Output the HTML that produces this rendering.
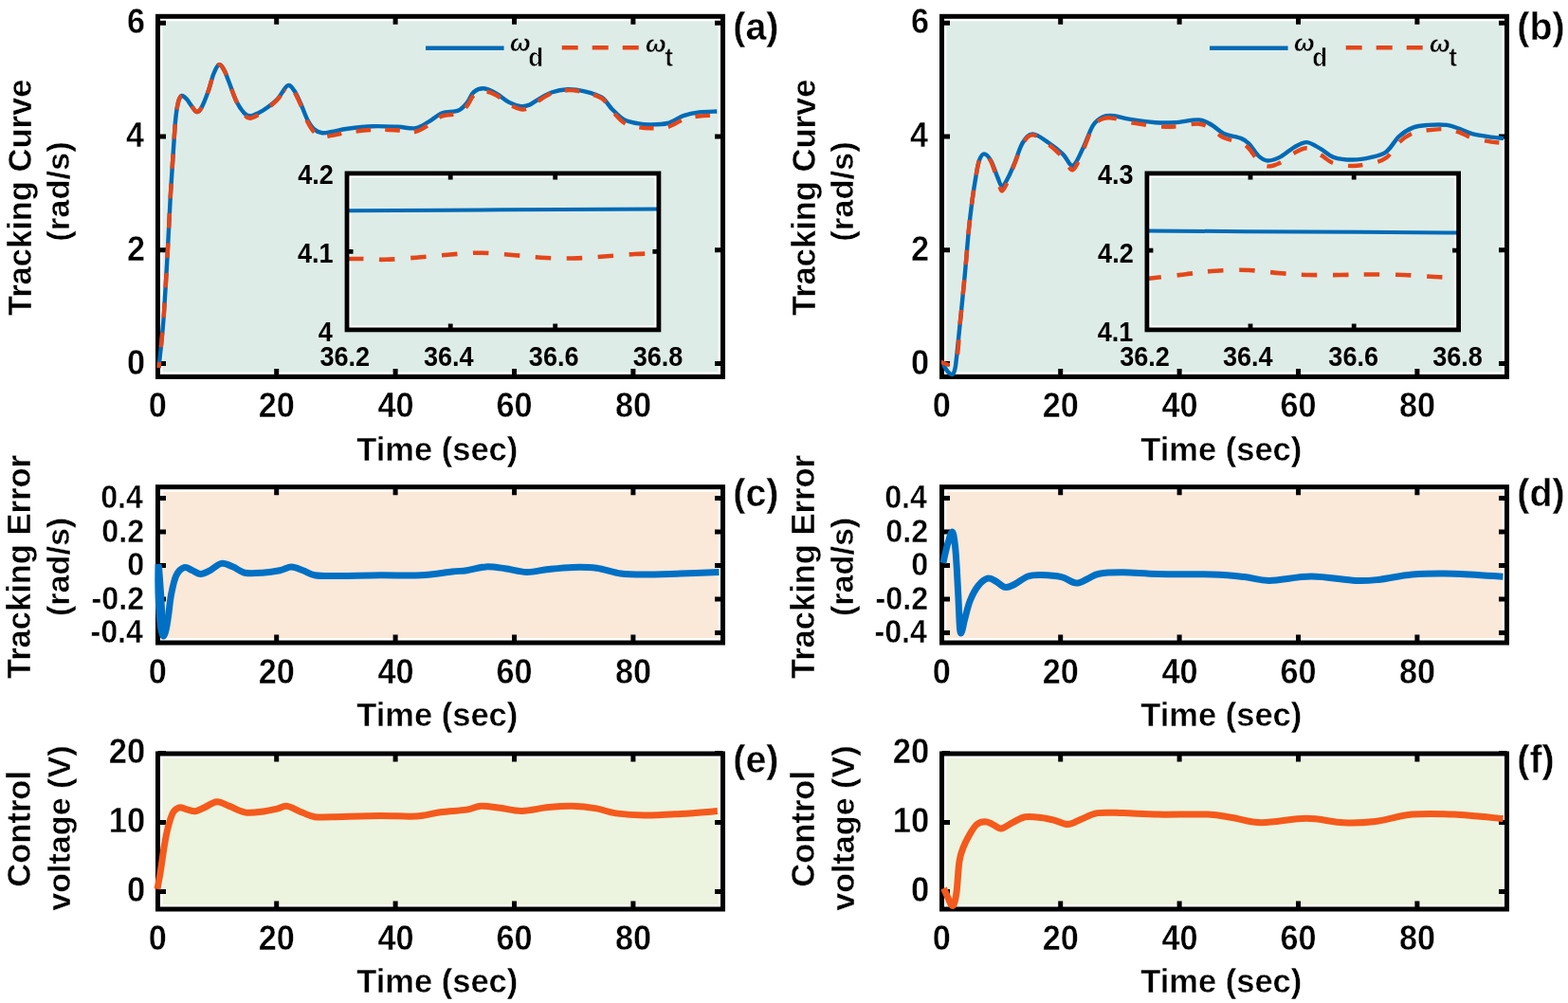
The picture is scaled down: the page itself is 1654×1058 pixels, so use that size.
<!DOCTYPE html><html><head><meta charset="utf-8"><title>Tracking figure</title><style>html,body{margin:0;padding:0;background:#fff;}svg{display:block;}</style></head><body>
<svg width="1654" height="1058" viewBox="0 0 1654 1058">
<rect width="1654" height="1058" fill="#fff"/>
<rect x="166.5" y="17.3" width="596" height="380.1" fill="#fff"/>
<rect x="171.5" y="22.3" width="586" height="370.1" fill="#DEECE7"/>
<path d="M291.7,397.4V388.9M291.7,17.3V25.8M417.1,397.4V388.9M417.1,17.3V25.8M542.5,397.4V388.9M542.5,17.3V25.8M667.9,397.4V388.9M667.9,17.3V25.8M166.5,383.5H175M762.5,383.5H754M166.5,263.7H175M762.5,263.7H754M166.5,143.9H175M762.5,143.9H754M166.5,24.3H175M762.5,24.3H754" stroke="#000" stroke-width="5" fill="none"/>
<rect x="166.5" y="17.3" width="596" height="380.1" fill="none" stroke="#000" stroke-width="5"/>
<path d="M167.5,388 C168.3,379.8 170.75,359.2 172.3,338.8 C173.85,318.4 175.55,287.57 176.8,265.6 C178.05,243.63 178.8,224.6 179.8,207 C180.8,189.4 181.88,173.67 182.8,160 C183.72,146.33 184.38,133.88 185.3,125 C186.22,116.12 187.2,110.7 188.3,106.7 C189.4,102.7 190.47,101.35 191.9,101 C193.33,100.65 195.13,102.7 196.9,104.6 C198.67,106.5 200.73,110.17 202.5,112.4 C204.27,114.63 205.85,117.77 207.5,118 C209.15,118.23 210.4,117.33 212.4,113.8 C214.4,110.27 217.37,102.72 219.5,96.8 C221.63,90.88 223.3,83.03 225.2,78.3 C227.1,73.57 229.02,69.1 230.9,68.4 C232.78,67.7 234.62,70.78 236.5,74.1 C238.38,77.42 240.07,82.87 242.2,88.3 C244.33,93.73 246.7,101.5 249.3,106.7 C251.9,111.9 255.43,116.9 257.8,119.5 C260.17,122.1 261.13,122.3 263.5,122.3 C265.87,122.3 268.7,121.15 272,119.5 C275.3,117.85 279.77,115 283.3,112.4 C286.83,109.8 289.88,107.57 293.2,103.9 C296.52,100.23 300.37,91.82 303.2,90.4 C306.03,88.98 307.85,92.22 310.2,95.4 C312.55,98.58 314.93,104.32 317.3,109.5 C319.67,114.68 322.03,122 324.4,126.5 C326.77,131 328.9,134.22 331.5,136.5 C334.1,138.78 336.92,139.78 340,140.2 C343.08,140.62 345.57,139.73 350,139 C354.43,138.27 359.4,136.77 366.6,135.8 C373.8,134.83 384.33,133.53 393.2,133.2 C402.07,132.87 412.27,133.47 419.8,133.8 C427.33,134.13 432.85,136.2 438.4,135.2 C443.95,134.2 448.43,130.47 453.1,127.8 C457.77,125.13 461.3,121.08 466.4,119.2 C471.5,117.32 479.27,118.38 483.7,116.5 C488.13,114.62 490.35,111.12 493,107.9 C495.65,104.68 496.72,99.63 499.6,97.2 C502.48,94.77 506.3,93.07 510.3,93.3 C514.3,93.53 519.17,96.17 523.6,98.6 C528.03,101.03 532.55,105.65 536.9,107.9 C541.25,110.15 546.1,111.65 549.7,112.1 C553.3,112.55 555.48,111.82 558.5,110.6 C561.52,109.38 563.93,106.98 567.8,104.8 C571.67,102.62 576.6,99.27 581.7,97.5 C586.8,95.73 592.6,94.4 598.4,94.2 C604.2,94 610.47,94.88 616.5,96.3 C622.53,97.72 629.73,99.55 634.6,102.7 C639.47,105.85 641.77,111.28 645.7,115.2 C649.63,119.12 653.8,123.72 658.2,126.2 C662.6,128.68 667.47,129.23 672.1,130.1 C676.73,130.97 680.67,131.42 686,131.4 C691.33,131.38 698.3,131.53 704.1,130 C709.9,128.47 715.23,124.13 720.8,122.2 C726.37,120.27 731.58,119.18 737.5,118.4 C743.42,117.62 753.17,117.65 756.3,117.5" stroke="#006AB6" stroke-width="4.4" fill="none" stroke-linejoin="round" stroke-linecap="butt"/>
<clipPath id="ca1"><rect x="150" y="0" width="150" height="420"/></clipPath>
<clipPath id="ca2"><rect x="300" y="0" width="480" height="420"/></clipPath>
<path d="M167.5,388 C168.3,379.8 170.75,359.2 172.3,338.8 C173.85,318.4 175.55,287.57 176.8,265.6 C178.05,243.63 178.8,224.6 179.8,207 C180.8,189.4 181.88,173.67 182.8,160 C183.72,146.33 184.38,133.88 185.3,125 C186.22,116.12 187.2,110.7 188.3,106.7 C189.4,102.7 190.47,101.35 191.9,101 C193.33,100.65 195.13,102.7 196.9,104.6 C198.67,106.5 200.73,110.17 202.5,112.4 C204.27,114.63 205.85,117.77 207.5,118 C209.15,118.23 210.4,117.33 212.4,113.8 C214.4,110.27 217.37,102.72 219.5,96.8 C221.63,90.88 223.3,83.03 225.2,78.3 C227.1,73.57 229.02,69.1 230.9,68.4 C232.78,67.7 234.62,70.78 236.5,74.1 C238.38,77.42 240.07,82.87 242.2,88.3 C244.33,93.73 246.7,101.25 249.3,106.7 C251.9,112.15 255.43,117.99 257.8,121 C260.17,124.01 261.13,124.71 263.5,124.76 C265.87,124.82 268.7,123.23 272,121.33 C275.3,119.44 279.77,116.2 283.3,113.4 C286.83,110.59 289.88,108.18 293.2,104.51 C296.52,100.83 300.37,92.66 303.2,91.34 C306.03,90.02 307.85,93.31 310.2,96.57 C312.55,99.84 314.93,105.58 317.3,110.91 C319.67,116.24 322.03,123.8 324.4,128.55 C326.77,133.3 328.9,136.83 331.5,139.44 C334.1,142.05 336.92,143.61 340,144.2 C343.08,144.79 345.57,143.71 350,142.95 C354.43,142.2 359.4,140.68 366.6,139.68 C373.8,138.68 384.33,137.33 393.2,136.96 C402.07,136.58 412.27,137.14 419.8,137.44 C427.33,137.74 432.85,139.78 438.4,138.75 C443.95,137.72 448.43,133.97 453.1,131.25 C457.77,128.53 461.3,124.37 466.4,122.43 C471.5,120.48 479.27,121.46 483.7,119.59 C488.13,117.73 490.35,114.38 493,111.23 C495.65,108.07 496.72,103.21 499.6,100.69 C502.48,98.17 506.3,96.14 510.3,96.11 C514.3,96.09 519.17,98.21 523.6,100.53 C528.03,102.85 532.55,107.55 536.9,110.03 C541.25,112.5 546.1,114.83 549.7,115.39 C553.3,115.95 555.48,114.86 558.5,113.39 C561.52,111.93 563.93,109.06 567.8,106.58 C571.67,104.1 576.6,100.4 581.7,98.5 C586.8,96.6 592.6,95.4 598.4,95.2 C604.2,95 610.47,95.88 616.5,97.3 C622.53,98.72 629.73,100.43 634.6,103.7 C639.47,106.97 641.77,112.62 645.7,116.93 C649.63,121.23 653.8,126.68 658.2,129.52 C662.6,132.35 667.47,132.98 672.1,133.94 C676.73,134.9 680.67,135.29 686,135.3 C691.33,135.3 698.3,135.48 704.1,133.97 C709.9,132.46 715.23,128.15 720.8,126.24 C726.37,124.33 731.58,123.27 737.5,122.51 C743.42,121.75 753.17,121.82 756.3,121.68" stroke="#E4461A" stroke-width="4.4" fill="none" stroke-linejoin="round" stroke-linecap="butt" stroke-dasharray="15.5,15.9" stroke-dashoffset="9.32" clip-path="url(#ca1)"/>
<path d="M167.5,388 C168.3,379.8 170.75,359.2 172.3,338.8 C173.85,318.4 175.55,287.57 176.8,265.6 C178.05,243.63 178.8,224.6 179.8,207 C180.8,189.4 181.88,173.67 182.8,160 C183.72,146.33 184.38,133.88 185.3,125 C186.22,116.12 187.2,110.7 188.3,106.7 C189.4,102.7 190.47,101.35 191.9,101 C193.33,100.65 195.13,102.7 196.9,104.6 C198.67,106.5 200.73,110.17 202.5,112.4 C204.27,114.63 205.85,117.77 207.5,118 C209.15,118.23 210.4,117.33 212.4,113.8 C214.4,110.27 217.37,102.72 219.5,96.8 C221.63,90.88 223.3,83.03 225.2,78.3 C227.1,73.57 229.02,69.1 230.9,68.4 C232.78,67.7 234.62,70.78 236.5,74.1 C238.38,77.42 240.07,82.87 242.2,88.3 C244.33,93.73 246.7,101.25 249.3,106.7 C251.9,112.15 255.43,117.99 257.8,121 C260.17,124.01 261.13,124.71 263.5,124.76 C265.87,124.82 268.7,123.23 272,121.33 C275.3,119.44 279.77,116.2 283.3,113.4 C286.83,110.59 289.88,108.18 293.2,104.51 C296.52,100.83 300.37,92.66 303.2,91.34 C306.03,90.02 307.85,93.31 310.2,96.57 C312.55,99.84 314.93,105.58 317.3,110.91 C319.67,116.24 322.03,123.8 324.4,128.55 C326.77,133.3 328.9,136.83 331.5,139.44 C334.1,142.05 336.92,143.61 340,144.2 C343.08,144.79 345.57,143.71 350,142.95 C354.43,142.2 359.4,140.68 366.6,139.68 C373.8,138.68 384.33,137.33 393.2,136.96 C402.07,136.58 412.27,137.14 419.8,137.44 C427.33,137.74 432.85,139.78 438.4,138.75 C443.95,137.72 448.43,133.97 453.1,131.25 C457.77,128.53 461.3,124.37 466.4,122.43 C471.5,120.48 479.27,121.46 483.7,119.59 C488.13,117.73 490.35,114.38 493,111.23 C495.65,108.07 496.72,103.21 499.6,100.69 C502.48,98.17 506.3,96.14 510.3,96.11 C514.3,96.09 519.17,98.21 523.6,100.53 C528.03,102.85 532.55,107.55 536.9,110.03 C541.25,112.5 546.1,114.83 549.7,115.39 C553.3,115.95 555.48,114.86 558.5,113.39 C561.52,111.93 563.93,109.06 567.8,106.58 C571.67,104.1 576.6,100.4 581.7,98.5 C586.8,96.6 592.6,95.4 598.4,95.2 C604.2,95 610.47,95.88 616.5,97.3 C622.53,98.72 629.73,100.43 634.6,103.7 C639.47,106.97 641.77,112.62 645.7,116.93 C649.63,121.23 653.8,126.68 658.2,129.52 C662.6,132.35 667.47,132.98 672.1,133.94 C676.73,134.9 680.67,135.29 686,135.3 C691.33,135.3 698.3,135.48 704.1,133.97 C709.9,132.46 715.23,128.15 720.8,126.24 C726.37,124.33 731.58,123.27 737.5,122.51 C743.42,121.75 753.17,121.82 756.3,121.68" stroke="#E4461A" stroke-width="4.4" fill="none" stroke-linejoin="round" stroke-linecap="butt" stroke-dasharray="15.5,15.2" stroke-dashoffset="21.46" clip-path="url(#ca2)"/>
<text transform="translate(156.78,440.04) scale(0.95,1)" font-size="36.04" font-weight="bold" font-family="'Liberation Sans', Arial, Helvetica, sans-serif" fill="#000" stroke="#fff" stroke-width="0.4">0</text>
<text transform="translate(272.74,440.04) scale(0.95,1)" font-size="36.04" font-weight="bold" font-family="'Liberation Sans', Arial, Helvetica, sans-serif" fill="#000" stroke="#fff" stroke-width="0.4">20</text>
<text transform="translate(398.44,440.04) scale(0.95,1)" font-size="36.04" font-weight="bold" font-family="'Liberation Sans', Arial, Helvetica, sans-serif" fill="#000" stroke="#fff" stroke-width="0.4">40</text>
<text transform="translate(523.5,440.04) scale(0.95,1)" font-size="36.04" font-weight="bold" font-family="'Liberation Sans', Arial, Helvetica, sans-serif" fill="#000" stroke="#fff" stroke-width="0.4">60</text>
<text transform="translate(648.99,440.04) scale(0.95,1)" font-size="36.04" font-weight="bold" font-family="'Liberation Sans', Arial, Helvetica, sans-serif" fill="#000" stroke="#fff" stroke-width="0.4">80</text>
<text transform="translate(134.1,394.67) scale(0.93,1)" font-size="36.85" font-weight="bold" font-family="'Liberation Sans', Arial, Helvetica, sans-serif" fill="#000" stroke="#fff" stroke-width="0.4">0</text>
<text transform="translate(134.1,275.05) scale(0.93,1)" font-size="36.85" font-weight="bold" font-family="'Liberation Sans', Arial, Helvetica, sans-serif" fill="#000" stroke="#fff" stroke-width="0.4">2</text>
<text transform="translate(132.89,155.07) scale(0.93,1)" font-size="36.85" font-weight="bold" font-family="'Liberation Sans', Arial, Helvetica, sans-serif" fill="#000" stroke="#fff" stroke-width="0.4">4</text>
<text transform="translate(133.92,35.47) scale(0.93,1)" font-size="36.85" font-weight="bold" font-family="'Liberation Sans', Arial, Helvetica, sans-serif" fill="#000" stroke="#fff" stroke-width="0.4">6</text>
<text transform="translate(376.16,485.5) scale(0.97,1)" font-size="35.6" font-weight="bold" font-family="'Liberation Sans', Arial, Helvetica, sans-serif" fill="#000" stroke="#fff" stroke-width="0.4">Time (sec)</text>
<text transform="translate(32.6,333.04) rotate(-90) scale(0.97,1)" font-size="35.6" font-weight="bold" font-family="'Liberation Sans', Arial, Helvetica, sans-serif" stroke="#fff" stroke-width="0.4">Tracking Curve</text>
<text transform="translate(73.4,254.65) rotate(-90) scale(1.02,1)" font-size="33.79" font-weight="bold" font-family="'Liberation Sans', Arial, Helvetica, sans-serif" stroke="#fff" stroke-width="0.4">(rad/s)</text>
<text transform="translate(773.25,41.99) scale(0.95,1)" font-size="41.5" font-weight="bold" font-family="'Liberation Sans', Arial, Helvetica, sans-serif" fill="#000" stroke="#fff" stroke-width="0.4">(a)</text>
<rect x="993.5" y="17.3" width="596" height="380.1" fill="#fff"/>
<rect x="998.5" y="22.3" width="586" height="370.1" fill="#DEECE7"/>
<path d="M1118.7,397.4V388.9M1118.7,17.3V25.8M1244.1,397.4V388.9M1244.1,17.3V25.8M1369.5,397.4V388.9M1369.5,17.3V25.8M1494.9,397.4V388.9M1494.9,17.3V25.8M993.5,383.5H1002M1589.5,383.5H1581M993.5,263.7H1002M1589.5,263.7H1581M993.5,143.9H1002M1589.5,143.9H1581M993.5,24.3H1002M1589.5,24.3H1581" stroke="#000" stroke-width="5" fill="none"/>
<rect x="993.5" y="17.3" width="596" height="380.1" fill="none" stroke="#000" stroke-width="5"/>
<path d="M995,384.5 C995.8,385.75 998.2,390.25 999.8,392 C1001.4,393.75 1003.3,395.67 1004.6,395 C1005.9,394.33 1006.73,392.27 1007.6,388 C1008.47,383.73 1008.97,377.07 1009.8,369.4 C1010.63,361.73 1011.77,350.2 1012.6,342 C1013.43,333.8 1013.83,330.07 1014.8,320.2 C1015.77,310.33 1017.2,295.92 1018.4,282.8 C1019.6,269.68 1020.8,253.48 1022,241.5 C1023.2,229.52 1024.4,219.9 1025.6,210.9 C1026.8,201.9 1028,194.38 1029.2,187.5 C1030.4,180.62 1031.32,173.78 1032.8,169.6 C1034.28,165.42 1036.02,162.4 1038.1,162.4 C1040.18,162.4 1042.9,165.42 1045.3,169.6 C1047.7,173.78 1050.55,183.02 1052.5,187.5 C1054.45,191.98 1055.2,196.5 1057,196.5 C1058.8,196.5 1061.05,191.7 1063.3,187.5 C1065.55,183.3 1067.92,177.47 1070.5,171.3 C1073.08,165.13 1075.65,155.48 1078.8,150.5 C1081.95,145.52 1084.87,141.4 1089.4,141.4 C1093.93,141.4 1100.7,146.97 1106,150.5 C1111.3,154.03 1116.92,158.57 1121.2,162.6 C1125.48,166.63 1128.18,175.7 1131.7,174.7 C1135.22,173.7 1138.77,163.65 1142.3,156.6 C1145.83,149.55 1149.37,137.95 1152.9,132.4 C1156.43,126.85 1159.82,125 1163.5,123.3 C1167.18,121.6 1170.43,121.8 1175,122.2 C1179.57,122.6 1183.62,124.53 1190.9,125.7 C1198.18,126.87 1210.6,128.62 1218.7,129.2 C1226.8,129.78 1231.85,129.67 1239.5,129.2 C1247.15,128.73 1258.1,125.93 1264.6,126.4 C1271.1,126.87 1274.1,129.57 1278.5,132 C1282.9,134.43 1285.92,138.68 1291,141 C1296.08,143.32 1304.6,144.15 1309,145.9 C1313.4,147.65 1314.38,148.48 1317.4,151.5 C1320.42,154.52 1323.85,161 1327.1,164 C1330.35,167 1332.95,169.27 1336.9,169.5 C1340.85,169.73 1346.17,167.72 1350.8,165.4 C1355.43,163.08 1360.07,158.15 1364.7,155.6 C1369.33,153.05 1373.83,149.83 1378.6,150.1 C1383.37,150.37 1388.63,154.58 1393.3,157.2 C1397.97,159.82 1401.05,163.92 1406.6,165.8 C1412.15,167.68 1419.95,168.5 1426.6,168.5 C1433.25,168.5 1440.52,167.23 1446.5,165.8 C1452.48,164.37 1457.62,163.55 1462.5,159.9 C1467.38,156.25 1471.15,148.12 1475.8,143.9 C1480.45,139.68 1485.3,136.6 1490.4,134.6 C1495.5,132.6 1500.42,132.35 1506.4,131.9 C1512.38,131.45 1520.77,131.23 1526.3,131.9 C1531.83,132.57 1535.17,134.35 1539.6,135.9 C1544.03,137.45 1547.35,139.75 1552.9,141.2 C1558.45,142.65 1567.35,143.82 1572.9,144.6 C1578.45,145.38 1583.98,145.68 1586.2,145.9" stroke="#006AB6" stroke-width="4.4" fill="none" stroke-linejoin="round" stroke-linecap="butt"/>
<clipPath id="cb1"><rect x="980" y="0" width="190" height="420"/></clipPath>
<clipPath id="cb2"><rect x="1170" y="0" width="440" height="420"/></clipPath>
<path d="M993,382.3 C995.5,382.3 1004.73,389.01 1008,382.3 C1011.27,375.59 1011.47,352.38 1012.6,342.04 C1013.73,331.7 1013.83,330.12 1014.8,320.27 C1015.77,310.42 1017.2,296.02 1018.4,282.92 C1019.6,269.82 1020.8,253.64 1022,241.67 C1023.2,229.71 1024.4,220.11 1025.6,211.12 C1026.8,202.14 1028,194.64 1029.2,187.77 C1030.4,180.91 1031.32,174.09 1032.8,169.93 C1034.28,165.76 1036.02,162.75 1038.1,162.8 C1040.18,162.85 1042.9,165.54 1045.3,170.21 C1047.7,174.88 1050.55,185.6 1052.5,190.81 C1054.45,196.03 1055.2,201.54 1057,201.5 C1058.8,201.46 1061.05,195.43 1063.3,190.56 C1065.55,185.69 1067.92,178.81 1070.5,172.3 C1073.08,165.79 1075.65,156.48 1078.8,151.5 C1081.95,146.52 1084.87,142.28 1089.4,142.4 C1093.93,142.52 1100.7,148.25 1106,152.2 C1111.3,156.14 1116.92,161.57 1121.2,166.06 C1125.48,170.56 1128.18,180.33 1131.7,179.17 C1135.22,178 1138.77,166.65 1142.3,159.06 C1145.83,151.46 1149.37,139.24 1152.9,133.59 C1156.43,127.95 1159.82,126.65 1163.5,125.2 C1167.18,123.75 1170.43,124.24 1175,124.87 C1179.57,125.49 1183.62,127.58 1190.9,128.96 C1198.18,130.34 1210.6,132.38 1218.7,133.13 C1226.8,133.87 1231.85,133.83 1239.5,133.43 C1247.15,133.02 1258.1,130.21 1264.6,130.7 C1271.1,131.18 1274.1,133.89 1278.5,136.34 C1282.9,138.78 1285.92,142.99 1291,145.37 C1296.08,147.76 1304.6,148.79 1309,150.66 C1313.4,152.53 1314.38,153.46 1317.4,156.6 C1320.42,159.73 1323.85,166.35 1327.1,169.48 C1330.35,172.61 1332.95,175.05 1336.9,175.38 C1340.85,175.71 1346.17,173.73 1350.8,171.46 C1355.43,169.19 1360.07,164.26 1364.7,161.74 C1369.33,159.21 1373.83,156.02 1378.6,156.31 C1383.37,156.61 1388.63,160.85 1393.3,163.5 C1397.97,166.14 1401.05,170.26 1406.6,172.17 C1412.15,174.08 1419.95,174.98 1426.6,174.98 C1433.25,174.99 1440.52,173.66 1446.5,172.2 C1452.48,170.74 1457.62,169.88 1462.5,166.21 C1467.38,162.53 1471.15,154.41 1475.8,150.13 C1480.45,145.84 1485.3,142.62 1490.4,140.49 C1495.5,138.35 1500.42,138.03 1506.4,137.31 C1512.38,136.59 1520.77,135.79 1526.3,136.17 C1531.83,136.56 1535.17,138.06 1539.6,139.61 C1544.03,141.16 1547.35,143.81 1552.9,145.47 C1558.45,147.14 1567.35,148.7 1572.9,149.6 C1578.45,150.5 1583.98,150.68 1586.2,150.9" stroke="#E4461A" stroke-width="4.4" fill="none" stroke-linejoin="round" stroke-linecap="butt" stroke-dasharray="15.5,16.2" stroke-dashoffset="6.36" clip-path="url(#cb1)"/>
<path d="M993,382.3 C995.5,382.3 1004.73,389.01 1008,382.3 C1011.27,375.59 1011.47,352.38 1012.6,342.04 C1013.73,331.7 1013.83,330.12 1014.8,320.27 C1015.77,310.42 1017.2,296.02 1018.4,282.92 C1019.6,269.82 1020.8,253.64 1022,241.67 C1023.2,229.71 1024.4,220.11 1025.6,211.12 C1026.8,202.14 1028,194.64 1029.2,187.77 C1030.4,180.91 1031.32,174.09 1032.8,169.93 C1034.28,165.76 1036.02,162.75 1038.1,162.8 C1040.18,162.85 1042.9,165.54 1045.3,170.21 C1047.7,174.88 1050.55,185.6 1052.5,190.81 C1054.45,196.03 1055.2,201.54 1057,201.5 C1058.8,201.46 1061.05,195.43 1063.3,190.56 C1065.55,185.69 1067.92,178.81 1070.5,172.3 C1073.08,165.79 1075.65,156.48 1078.8,151.5 C1081.95,146.52 1084.87,142.28 1089.4,142.4 C1093.93,142.52 1100.7,148.25 1106,152.2 C1111.3,156.14 1116.92,161.57 1121.2,166.06 C1125.48,170.56 1128.18,180.33 1131.7,179.17 C1135.22,178 1138.77,166.65 1142.3,159.06 C1145.83,151.46 1149.37,139.24 1152.9,133.59 C1156.43,127.95 1159.82,126.65 1163.5,125.2 C1167.18,123.75 1170.43,124.24 1175,124.87 C1179.57,125.49 1183.62,127.58 1190.9,128.96 C1198.18,130.34 1210.6,132.38 1218.7,133.13 C1226.8,133.87 1231.85,133.83 1239.5,133.43 C1247.15,133.02 1258.1,130.21 1264.6,130.7 C1271.1,131.18 1274.1,133.89 1278.5,136.34 C1282.9,138.78 1285.92,142.99 1291,145.37 C1296.08,147.76 1304.6,148.79 1309,150.66 C1313.4,152.53 1314.38,153.46 1317.4,156.6 C1320.42,159.73 1323.85,166.35 1327.1,169.48 C1330.35,172.61 1332.95,175.05 1336.9,175.38 C1340.85,175.71 1346.17,173.73 1350.8,171.46 C1355.43,169.19 1360.07,164.26 1364.7,161.74 C1369.33,159.21 1373.83,156.02 1378.6,156.31 C1383.37,156.61 1388.63,160.85 1393.3,163.5 C1397.97,166.14 1401.05,170.26 1406.6,172.17 C1412.15,174.08 1419.95,174.98 1426.6,174.98 C1433.25,174.99 1440.52,173.66 1446.5,172.2 C1452.48,170.74 1457.62,169.88 1462.5,166.21 C1467.38,162.53 1471.15,154.41 1475.8,150.13 C1480.45,145.84 1485.3,142.62 1490.4,140.49 C1495.5,138.35 1500.42,138.03 1506.4,137.31 C1512.38,136.59 1520.77,135.79 1526.3,136.17 C1531.83,136.56 1535.17,138.06 1539.6,139.61 C1544.03,141.16 1547.35,143.81 1552.9,145.47 C1558.45,147.14 1567.35,148.7 1572.9,149.6 C1578.45,150.5 1583.98,150.68 1586.2,150.9" stroke="#E4461A" stroke-width="4.4" fill="none" stroke-linejoin="round" stroke-linecap="butt" stroke-dasharray="15.5,16.2" stroke-dashoffset="0.86" clip-path="url(#cb2)"/>
<text transform="translate(983.78,440.04) scale(0.95,1)" font-size="36.04" font-weight="bold" font-family="'Liberation Sans', Arial, Helvetica, sans-serif" fill="#000" stroke="#fff" stroke-width="0.4">0</text>
<text transform="translate(1099.74,440.04) scale(0.95,1)" font-size="36.04" font-weight="bold" font-family="'Liberation Sans', Arial, Helvetica, sans-serif" fill="#000" stroke="#fff" stroke-width="0.4">20</text>
<text transform="translate(1225.44,440.04) scale(0.95,1)" font-size="36.04" font-weight="bold" font-family="'Liberation Sans', Arial, Helvetica, sans-serif" fill="#000" stroke="#fff" stroke-width="0.4">40</text>
<text transform="translate(1350.5,440.04) scale(0.95,1)" font-size="36.04" font-weight="bold" font-family="'Liberation Sans', Arial, Helvetica, sans-serif" fill="#000" stroke="#fff" stroke-width="0.4">60</text>
<text transform="translate(1475.99,440.04) scale(0.95,1)" font-size="36.04" font-weight="bold" font-family="'Liberation Sans', Arial, Helvetica, sans-serif" fill="#000" stroke="#fff" stroke-width="0.4">80</text>
<text transform="translate(961.1,394.67) scale(0.93,1)" font-size="36.85" font-weight="bold" font-family="'Liberation Sans', Arial, Helvetica, sans-serif" fill="#000" stroke="#fff" stroke-width="0.4">0</text>
<text transform="translate(961.1,275.05) scale(0.93,1)" font-size="36.85" font-weight="bold" font-family="'Liberation Sans', Arial, Helvetica, sans-serif" fill="#000" stroke="#fff" stroke-width="0.4">2</text>
<text transform="translate(959.89,155.07) scale(0.93,1)" font-size="36.85" font-weight="bold" font-family="'Liberation Sans', Arial, Helvetica, sans-serif" fill="#000" stroke="#fff" stroke-width="0.4">4</text>
<text transform="translate(960.92,35.47) scale(0.93,1)" font-size="36.85" font-weight="bold" font-family="'Liberation Sans', Arial, Helvetica, sans-serif" fill="#000" stroke="#fff" stroke-width="0.4">6</text>
<text transform="translate(1203.16,485.5) scale(0.97,1)" font-size="35.6" font-weight="bold" font-family="'Liberation Sans', Arial, Helvetica, sans-serif" fill="#000" stroke="#fff" stroke-width="0.4">Time (sec)</text>
<text transform="translate(859.6,333.04) rotate(-90) scale(0.97,1)" font-size="35.6" font-weight="bold" font-family="'Liberation Sans', Arial, Helvetica, sans-serif" stroke="#fff" stroke-width="0.4">Tracking Curve</text>
<text transform="translate(900.4,254.65) rotate(-90) scale(1.02,1)" font-size="33.79" font-weight="bold" font-family="'Liberation Sans', Arial, Helvetica, sans-serif" stroke="#fff" stroke-width="0.4">(rad/s)</text>
<text transform="translate(1600.25,41.99) scale(0.95,1)" font-size="41.5" font-weight="bold" font-family="'Liberation Sans', Arial, Helvetica, sans-serif" fill="#000" stroke="#fff" stroke-width="0.4">(b)</text>
<rect x="166.5" y="513.7" width="596" height="164.3" fill="#fff"/>
<rect x="171.5" y="518.7" width="586" height="154.3" fill="#FAE8D8"/>
<path d="M291.7,678V669.5M291.7,513.7V522.2M417.1,678V669.5M417.1,513.7V522.2M542.5,678V669.5M542.5,513.7V522.2M667.9,678V669.5M667.9,513.7V522.2M166.5,667.5H175M762.5,667.5H754M166.5,632H175M762.5,632H754M166.5,596.5H175M762.5,596.5H754M166.5,561H175M762.5,561H754M166.5,525.5H175M762.5,525.5H754" stroke="#000" stroke-width="5" fill="none"/>
<rect x="166.5" y="513.7" width="596" height="164.3" fill="none" stroke="#000" stroke-width="5"/>
<path d="M167.5,597 C167.83,601.67 168.92,616.17 169.5,625 C170.08,633.83 170.5,642.83 171,650 C171.5,657.17 172.25,665 172.5,668" stroke="#0070C4" stroke-width="7" fill="none" stroke-linejoin="round" stroke-linecap="butt"/>
<path d="M167,595 C166.97,598.33 166.7,607.5 166.8,615 C166.9,622.5 167.13,632.17 167.6,640 C168.07,647.83 168.83,656.83 169.6,662 C170.37,667.17 171.27,670.67 172.2,671 C173.13,671.33 174.27,667.83 175.2,664 C176.13,660.17 176.92,654.07 177.8,648 C178.68,641.93 179.17,634.4 180.5,627.6 C181.83,620.8 183.48,612.02 185.8,607.2 C188.12,602.38 191.53,599.6 194.4,598.7 C197.27,597.8 200.13,600.67 203,601.8 C205.87,602.93 208.53,605.5 211.6,605.5 C214.67,605.5 217.72,603.65 221.4,601.8 C225.08,599.95 229.6,595.02 233.7,594.4 C237.8,593.78 241.9,596.47 246,598.1 C250.1,599.73 253.18,603.18 258.3,604.2 C263.42,605.22 270.57,604.6 276.7,604.2 C282.83,603.8 289.98,602.82 295.1,601.8 C300.22,600.78 303.3,598.1 307.4,598.1 C311.5,598.1 315.6,600.37 319.7,601.8 C323.8,603.23 326.95,605.73 332,606.7 C337.05,607.67 338.53,607.58 350,607.6 C361.47,607.62 385.13,606.93 400.8,606.8 C416.47,606.67 431.3,607.43 444,606.8 C456.7,606.17 468.97,603.85 477,603 C485.03,602.15 486.28,602.55 492.2,601.7 C498.12,600.85 505.73,598.23 512.5,597.9 C519.27,597.57 525.6,598.77 532.8,599.7 C540,600.63 548.08,603.37 555.7,603.5 C563.32,603.63 570.45,601.35 578.5,600.5 C586.55,599.65 595.53,598.62 604,598.4 C612.47,598.18 620.85,598.1 629.3,599.2 C637.75,600.3 646.23,603.85 654.7,605 C663.17,606.15 669.52,606.1 680.1,606.1 C690.68,606.1 705.13,605.42 718.2,605 C731.27,604.58 751.78,603.83 758.5,603.6" stroke="#0070C4" stroke-width="7" fill="none" stroke-linejoin="round" stroke-linecap="butt"/>
<text transform="translate(156.78,720.64) scale(0.95,1)" font-size="36.04" font-weight="bold" font-family="'Liberation Sans', Arial, Helvetica, sans-serif" fill="#000" stroke="#fff" stroke-width="0.4">0</text>
<text transform="translate(272.74,720.64) scale(0.95,1)" font-size="36.04" font-weight="bold" font-family="'Liberation Sans', Arial, Helvetica, sans-serif" fill="#000" stroke="#fff" stroke-width="0.4">20</text>
<text transform="translate(398.44,720.64) scale(0.95,1)" font-size="36.04" font-weight="bold" font-family="'Liberation Sans', Arial, Helvetica, sans-serif" fill="#000" stroke="#fff" stroke-width="0.4">40</text>
<text transform="translate(523.5,720.64) scale(0.95,1)" font-size="36.04" font-weight="bold" font-family="'Liberation Sans', Arial, Helvetica, sans-serif" fill="#000" stroke="#fff" stroke-width="0.4">60</text>
<text transform="translate(648.99,720.64) scale(0.95,1)" font-size="36.04" font-weight="bold" font-family="'Liberation Sans', Arial, Helvetica, sans-serif" fill="#000" stroke="#fff" stroke-width="0.4">80</text>
<text transform="translate(95.43,678.17) scale(0.91,1)" font-size="35.41" font-weight="bold" font-family="'Liberation Sans', Arial, Helvetica, sans-serif" fill="#000" stroke="#fff" stroke-width="0.4">-0.4</text>
<text transform="translate(96.56,642.67) scale(0.91,1)" font-size="35.41" font-weight="bold" font-family="'Liberation Sans', Arial, Helvetica, sans-serif" fill="#000" stroke="#fff" stroke-width="0.4">-0.2</text>
<text transform="translate(134.13,607.17) scale(0.91,1)" font-size="35.41" font-weight="bold" font-family="'Liberation Sans', Arial, Helvetica, sans-serif" fill="#000" stroke="#fff" stroke-width="0.4">0</text>
<text transform="translate(107.26,571.67) scale(0.91,1)" font-size="35.41" font-weight="bold" font-family="'Liberation Sans', Arial, Helvetica, sans-serif" fill="#000" stroke="#fff" stroke-width="0.4">0.2</text>
<text transform="translate(106.13,536.17) scale(0.91,1)" font-size="35.41" font-weight="bold" font-family="'Liberation Sans', Arial, Helvetica, sans-serif" fill="#000" stroke="#fff" stroke-width="0.4">0.4</text>
<text transform="translate(376.16,766.1) scale(0.97,1)" font-size="35.6" font-weight="bold" font-family="'Liberation Sans', Arial, Helvetica, sans-serif" fill="#000" stroke="#fff" stroke-width="0.4">Time (sec)</text>
<text transform="translate(32.2,716.04) rotate(-90) scale(0.97,1)" font-size="35.6" font-weight="bold" font-family="'Liberation Sans', Arial, Helvetica, sans-serif" stroke="#fff" stroke-width="0.4">Tracking Error</text>
<text transform="translate(73.3,650.02) rotate(-90) scale(1.01,1)" font-size="33.79" font-weight="bold" font-family="'Liberation Sans', Arial, Helvetica, sans-serif" stroke="#fff" stroke-width="0.4">(rad/s)</text>
<text transform="translate(773.25,534.09) scale(0.95,1)" font-size="41.5" font-weight="bold" font-family="'Liberation Sans', Arial, Helvetica, sans-serif" fill="#000" stroke="#fff" stroke-width="0.4">(c)</text>
<rect x="993.5" y="513.7" width="596" height="164.3" fill="#fff"/>
<rect x="998.5" y="518.7" width="586" height="154.3" fill="#FAE8D8"/>
<path d="M1118.7,678V669.5M1118.7,513.7V522.2M1244.1,678V669.5M1244.1,513.7V522.2M1369.5,678V669.5M1369.5,513.7V522.2M1494.9,678V669.5M1494.9,513.7V522.2M993.5,667.5H1002M1589.5,667.5H1581M993.5,632H1002M1589.5,632H1581M993.5,596.5H1002M1589.5,596.5H1581M993.5,561H1002M1589.5,561H1581M993.5,525.5H1002M1589.5,525.5H1581" stroke="#000" stroke-width="5" fill="none"/>
<rect x="993.5" y="513.7" width="596" height="164.3" fill="none" stroke="#000" stroke-width="5"/>
<path d="M994.9,593.9 C995.62,590.82 997.62,580.88 999.2,575.4 C1000.78,569.92 1003.03,561.07 1004.4,561 C1005.77,560.93 1006.58,568.5 1007.4,575 C1008.22,581.5 1008.72,590.83 1009.3,600 C1009.88,609.17 1010.35,619.33 1010.9,630 C1011.45,640.67 1011.98,658 1012.6,664 C1013.22,670 1013.77,667.77 1014.6,666 C1015.43,664.23 1016.15,658.82 1017.6,653.4 C1019.05,647.98 1020.93,639.4 1023.3,633.5 C1025.67,627.6 1028.73,621.88 1031.8,618 C1034.87,614.12 1038.63,611.03 1041.7,610.2 C1044.77,609.37 1047.13,611.47 1050.2,613 C1053.27,614.53 1056.8,618.82 1060.1,619.4 C1063.4,619.98 1065.98,618.4 1070,616.5 C1074.02,614.6 1079.47,609.65 1084.2,608 C1088.93,606.35 1092.48,606.48 1098.4,606.6 C1104.32,606.72 1113.57,607.28 1119.7,608.7 C1125.83,610.12 1130.48,614.85 1135.2,615.1 C1139.92,615.35 1143.98,611.85 1148,610.2 C1152.02,608.55 1153.13,606.27 1159.3,605.2 C1165.47,604.13 1174.55,603.75 1185,603.8 C1195.45,603.85 1206.3,605.13 1222,605.5 C1237.7,605.87 1264.03,605.48 1279.2,606 C1294.37,606.52 1303.03,607.52 1313,608.6 C1322.97,609.68 1327.3,612.58 1339,612.5 C1350.7,612.42 1368.03,608.1 1383.2,608.1 C1398.37,608.1 1417.87,611.98 1430,612.5 C1442.13,613.02 1446.05,612.28 1456,611.2 C1465.95,610.12 1476.72,607 1489.7,606 C1502.68,605 1517.93,604.82 1533.9,605.2 C1549.87,605.58 1576.9,607.78 1585.5,608.3" stroke="#0070C4" stroke-width="7" fill="none" stroke-linejoin="round" stroke-linecap="butt"/>
<text transform="translate(983.78,720.64) scale(0.95,1)" font-size="36.04" font-weight="bold" font-family="'Liberation Sans', Arial, Helvetica, sans-serif" fill="#000" stroke="#fff" stroke-width="0.4">0</text>
<text transform="translate(1099.74,720.64) scale(0.95,1)" font-size="36.04" font-weight="bold" font-family="'Liberation Sans', Arial, Helvetica, sans-serif" fill="#000" stroke="#fff" stroke-width="0.4">20</text>
<text transform="translate(1225.44,720.64) scale(0.95,1)" font-size="36.04" font-weight="bold" font-family="'Liberation Sans', Arial, Helvetica, sans-serif" fill="#000" stroke="#fff" stroke-width="0.4">40</text>
<text transform="translate(1350.5,720.64) scale(0.95,1)" font-size="36.04" font-weight="bold" font-family="'Liberation Sans', Arial, Helvetica, sans-serif" fill="#000" stroke="#fff" stroke-width="0.4">60</text>
<text transform="translate(1475.99,720.64) scale(0.95,1)" font-size="36.04" font-weight="bold" font-family="'Liberation Sans', Arial, Helvetica, sans-serif" fill="#000" stroke="#fff" stroke-width="0.4">80</text>
<text transform="translate(922.43,678.17) scale(0.91,1)" font-size="35.41" font-weight="bold" font-family="'Liberation Sans', Arial, Helvetica, sans-serif" fill="#000" stroke="#fff" stroke-width="0.4">-0.4</text>
<text transform="translate(923.56,642.67) scale(0.91,1)" font-size="35.41" font-weight="bold" font-family="'Liberation Sans', Arial, Helvetica, sans-serif" fill="#000" stroke="#fff" stroke-width="0.4">-0.2</text>
<text transform="translate(961.13,607.17) scale(0.91,1)" font-size="35.41" font-weight="bold" font-family="'Liberation Sans', Arial, Helvetica, sans-serif" fill="#000" stroke="#fff" stroke-width="0.4">0</text>
<text transform="translate(934.26,571.67) scale(0.91,1)" font-size="35.41" font-weight="bold" font-family="'Liberation Sans', Arial, Helvetica, sans-serif" fill="#000" stroke="#fff" stroke-width="0.4">0.2</text>
<text transform="translate(933.13,536.17) scale(0.91,1)" font-size="35.41" font-weight="bold" font-family="'Liberation Sans', Arial, Helvetica, sans-serif" fill="#000" stroke="#fff" stroke-width="0.4">0.4</text>
<text transform="translate(1203.16,766.1) scale(0.97,1)" font-size="35.6" font-weight="bold" font-family="'Liberation Sans', Arial, Helvetica, sans-serif" fill="#000" stroke="#fff" stroke-width="0.4">Time (sec)</text>
<text transform="translate(859.2,716.04) rotate(-90) scale(0.97,1)" font-size="35.6" font-weight="bold" font-family="'Liberation Sans', Arial, Helvetica, sans-serif" stroke="#fff" stroke-width="0.4">Tracking Error</text>
<text transform="translate(900.3,650.02) rotate(-90) scale(1.01,1)" font-size="33.79" font-weight="bold" font-family="'Liberation Sans', Arial, Helvetica, sans-serif" stroke="#fff" stroke-width="0.4">(rad/s)</text>
<text transform="translate(1600.25,534.09) scale(0.95,1)" font-size="41.5" font-weight="bold" font-family="'Liberation Sans', Arial, Helvetica, sans-serif" fill="#000" stroke="#fff" stroke-width="0.4">(d)</text>
<rect x="166.5" y="795" width="596" height="164" fill="#fff"/>
<rect x="171.5" y="800" width="586" height="154" fill="#ECF3DE"/>
<path d="M291.7,959V950.5M291.7,795V803.5M417.1,959V950.5M417.1,795V803.5M542.5,959V950.5M542.5,795V803.5M667.9,959V950.5M667.9,795V803.5M166.5,940.5H175M762.5,940.5H754M166.5,867.4H175M762.5,867.4H754M166.5,794.6H175M762.5,794.6H754" stroke="#000" stroke-width="5" fill="none"/>
<rect x="166.5" y="795" width="596" height="164" fill="none" stroke="#000" stroke-width="5"/>
<path d="M166,937.8 C166.55,934.72 168.1,926.8 169.3,919.3 C170.5,911.8 171.88,900.53 173.2,892.8 C174.52,885.07 175.65,878.85 177.2,872.9 C178.75,866.95 180.52,860.62 182.5,857.1 C184.48,853.58 186.67,852.35 189.1,851.8 C191.53,851.25 194.23,853.15 197.1,853.8 C199.97,854.45 203.22,856.03 206.3,855.7 C209.38,855.37 211.85,853.45 215.6,851.8 C219.35,850.15 224.38,846.03 228.8,845.8 C233.22,845.57 237.02,848.52 242.1,850.4 C247.18,852.28 253.13,856.22 259.3,857.1 C265.47,857.98 273.58,856.37 279.1,855.7 C284.62,855.03 288.42,853.98 292.4,853.1 C296.38,852.22 298.6,849.73 303,850.4 C307.4,851.07 313.95,855.22 318.8,857.1 C323.65,858.98 326.9,860.93 332.1,861.7 C337.3,862.47 338.55,861.9 350,861.7 C361.45,861.5 385.98,860.62 400.8,860.5 C415.62,860.38 428.32,861.63 438.9,861 C449.48,860.37 455.42,857.85 464.3,856.7 C473.18,855.55 485.02,855.17 492.2,854.1 C499.38,853.03 501.47,850.6 507.4,850.3 C513.33,850 520.6,851.45 527.8,852.3 C535,853.15 542.15,855.52 550.6,855.4 C559.05,855.28 569.6,852.45 578.5,851.6 C587.4,850.75 595.53,850.08 604,850.3 C612.47,850.52 621.7,851.63 629.3,852.9 C636.9,854.17 641.13,856.72 649.6,857.9 C658.07,859.08 668.67,859.92 680.1,860 C691.53,860.08 705.42,859.13 718.2,858.4 C730.98,857.67 750.37,856.07 756.8,855.6" stroke="#F45A1C" stroke-width="7" fill="none" stroke-linejoin="round" stroke-linecap="butt"/>
<text transform="translate(156.78,1001.64) scale(0.95,1)" font-size="36.04" font-weight="bold" font-family="'Liberation Sans', Arial, Helvetica, sans-serif" fill="#000" stroke="#fff" stroke-width="0.4">0</text>
<text transform="translate(272.74,1001.64) scale(0.95,1)" font-size="36.04" font-weight="bold" font-family="'Liberation Sans', Arial, Helvetica, sans-serif" fill="#000" stroke="#fff" stroke-width="0.4">20</text>
<text transform="translate(398.44,1001.64) scale(0.95,1)" font-size="36.04" font-weight="bold" font-family="'Liberation Sans', Arial, Helvetica, sans-serif" fill="#000" stroke="#fff" stroke-width="0.4">40</text>
<text transform="translate(523.5,1001.64) scale(0.95,1)" font-size="36.04" font-weight="bold" font-family="'Liberation Sans', Arial, Helvetica, sans-serif" fill="#000" stroke="#fff" stroke-width="0.4">60</text>
<text transform="translate(648.99,1001.64) scale(0.95,1)" font-size="36.04" font-weight="bold" font-family="'Liberation Sans', Arial, Helvetica, sans-serif" fill="#000" stroke="#fff" stroke-width="0.4">80</text>
<text transform="translate(134.02,951.39) scale(0.96,1)" font-size="36.04" font-weight="bold" font-family="'Liberation Sans', Arial, Helvetica, sans-serif" fill="#000" stroke="#fff" stroke-width="0.4">0</text>
<text transform="translate(114.85,878.29) scale(0.96,1)" font-size="36.04" font-weight="bold" font-family="'Liberation Sans', Arial, Helvetica, sans-serif" fill="#000" stroke="#fff" stroke-width="0.4">10</text>
<text transform="translate(114.85,805.49) scale(0.96,1)" font-size="36.04" font-weight="bold" font-family="'Liberation Sans', Arial, Helvetica, sans-serif" fill="#000" stroke="#fff" stroke-width="0.4">20</text>
<text transform="translate(376.16,1047.1) scale(0.97,1)" font-size="35.6" font-weight="bold" font-family="'Liberation Sans', Arial, Helvetica, sans-serif" fill="#000" stroke="#fff" stroke-width="0.4">Time (sec)</text>
<text transform="translate(32.4,935.67) rotate(-90) scale(0.97,1)" font-size="35.6" font-weight="bold" font-family="'Liberation Sans', Arial, Helvetica, sans-serif" stroke="#fff" stroke-width="0.4">Control</text>
<text transform="translate(74,960.79) rotate(-90) scale(1.01,1)" font-size="33.79" font-weight="bold" font-family="'Liberation Sans', Arial, Helvetica, sans-serif" stroke="#fff" stroke-width="0.4">voltage (V)</text>
<text transform="translate(773.25,815.19) scale(0.95,1)" font-size="41.5" font-weight="bold" font-family="'Liberation Sans', Arial, Helvetica, sans-serif" fill="#000" stroke="#fff" stroke-width="0.4">(e)</text>
<rect x="993.5" y="795" width="596" height="164" fill="#fff"/>
<rect x="998.5" y="800" width="586" height="154" fill="#ECF3DE"/>
<path d="M1118.7,959V950.5M1118.7,795V803.5M1244.1,959V950.5M1244.1,795V803.5M1369.5,959V950.5M1369.5,795V803.5M1494.9,959V950.5M1494.9,795V803.5M993.5,940.5H1002M1589.5,940.5H1581M993.5,867.4H1002M1589.5,867.4H1581M993.5,794.6H1002M1589.5,794.6H1581" stroke="#000" stroke-width="5" fill="none"/>
<rect x="993.5" y="795" width="596" height="164" fill="none" stroke="#000" stroke-width="5"/>
<path d="M995.5,937 C996.17,938.5 998.17,943.08 999.5,946 C1000.83,948.92 1002.38,953.17 1003.5,954.5 C1004.62,955.83 1005.27,956.33 1006.2,954 C1007.13,951.67 1008.15,948 1009.1,940.5 C1010.05,933 1010.72,916.8 1011.9,909 C1013.08,901.2 1014.3,898.62 1016.2,893.7 C1018.1,888.78 1020.93,883.52 1023.3,879.5 C1025.67,875.48 1027.8,871.72 1030.4,869.6 C1033,867.48 1036.3,866.92 1038.9,866.8 C1041.5,866.68 1043.17,867.72 1046,868.9 C1048.83,870.08 1052.37,874.02 1055.9,873.9 C1059.43,873.78 1062.95,870.22 1067.2,868.2 C1071.45,866.18 1076.2,862.75 1081.4,861.8 C1086.6,860.85 1093.2,861.9 1098.4,862.5 C1103.6,863.1 1107.88,864.22 1112.6,865.4 C1117.32,866.58 1121.98,869.85 1126.7,869.6 C1131.42,869.35 1135.7,865.9 1140.9,863.9 C1146.1,861.9 1150.55,858.65 1157.9,857.6 C1165.25,856.55 1174.32,857.35 1185,857.6 C1195.68,857.85 1207.17,858.85 1222,859.1 C1236.83,859.35 1261,858.53 1274,859.1 C1287,859.67 1290.47,861.07 1300,862.5 C1309.53,863.93 1318.2,867.57 1331.2,867.7 C1344.2,867.83 1363.7,863.3 1378,863.3 C1392.3,863.3 1404.88,867.18 1417,867.7 C1429.12,868.22 1438.58,867.83 1450.7,866.4 C1462.82,864.97 1475.83,860.32 1489.7,859.1 C1503.57,857.88 1517.93,858.35 1533.9,859.1 C1549.87,859.85 1576.9,862.85 1585.5,863.6" stroke="#F45A1C" stroke-width="7" fill="none" stroke-linejoin="round" stroke-linecap="butt"/>
<text transform="translate(983.78,1001.64) scale(0.95,1)" font-size="36.04" font-weight="bold" font-family="'Liberation Sans', Arial, Helvetica, sans-serif" fill="#000" stroke="#fff" stroke-width="0.4">0</text>
<text transform="translate(1099.74,1001.64) scale(0.95,1)" font-size="36.04" font-weight="bold" font-family="'Liberation Sans', Arial, Helvetica, sans-serif" fill="#000" stroke="#fff" stroke-width="0.4">20</text>
<text transform="translate(1225.44,1001.64) scale(0.95,1)" font-size="36.04" font-weight="bold" font-family="'Liberation Sans', Arial, Helvetica, sans-serif" fill="#000" stroke="#fff" stroke-width="0.4">40</text>
<text transform="translate(1350.5,1001.64) scale(0.95,1)" font-size="36.04" font-weight="bold" font-family="'Liberation Sans', Arial, Helvetica, sans-serif" fill="#000" stroke="#fff" stroke-width="0.4">60</text>
<text transform="translate(1475.99,1001.64) scale(0.95,1)" font-size="36.04" font-weight="bold" font-family="'Liberation Sans', Arial, Helvetica, sans-serif" fill="#000" stroke="#fff" stroke-width="0.4">80</text>
<text transform="translate(961.02,951.39) scale(0.96,1)" font-size="36.04" font-weight="bold" font-family="'Liberation Sans', Arial, Helvetica, sans-serif" fill="#000" stroke="#fff" stroke-width="0.4">0</text>
<text transform="translate(941.85,878.29) scale(0.96,1)" font-size="36.04" font-weight="bold" font-family="'Liberation Sans', Arial, Helvetica, sans-serif" fill="#000" stroke="#fff" stroke-width="0.4">10</text>
<text transform="translate(941.85,805.49) scale(0.96,1)" font-size="36.04" font-weight="bold" font-family="'Liberation Sans', Arial, Helvetica, sans-serif" fill="#000" stroke="#fff" stroke-width="0.4">20</text>
<text transform="translate(1203.16,1047.1) scale(0.97,1)" font-size="35.6" font-weight="bold" font-family="'Liberation Sans', Arial, Helvetica, sans-serif" fill="#000" stroke="#fff" stroke-width="0.4">Time (sec)</text>
<text transform="translate(859.4,935.67) rotate(-90) scale(0.97,1)" font-size="35.6" font-weight="bold" font-family="'Liberation Sans', Arial, Helvetica, sans-serif" stroke="#fff" stroke-width="0.4">Control</text>
<text transform="translate(901,960.79) rotate(-90) scale(1.01,1)" font-size="33.79" font-weight="bold" font-family="'Liberation Sans', Arial, Helvetica, sans-serif" stroke="#fff" stroke-width="0.4">voltage (V)</text>
<text transform="translate(1600.25,815.19) scale(0.95,1)" font-size="41.5" font-weight="bold" font-family="'Liberation Sans', Arial, Helvetica, sans-serif" fill="#000" stroke="#fff" stroke-width="0.4">(f)</text>
<path d="M449,50.8H531.6" stroke="#006AB6" stroke-width="4.4"/>
<path d="M592.7,50.3H677" stroke="#E4461A" stroke-width="4.6" stroke-dasharray="17,15"/>
<text transform="translate(537.99,54.39) scale(1.02,1)" font-size="25.57" font-weight="bold" font-style="italic" font-family="'Liberation Sans', Arial, Helvetica, sans-serif" fill="#000" stroke="#DEECE7" stroke-width="0.5">ω</text>
<text transform="translate(681.09,54.89) scale(1.02,1)" font-size="25.57" font-weight="bold" font-style="italic" font-family="'Liberation Sans', Arial, Helvetica, sans-serif" fill="#000" stroke="#DEECE7" stroke-width="0.5">ω</text>
<text transform="translate(557.37,70.13) scale(0.96,1)" font-size="27.07" font-weight="bold" font-family="'Liberation Sans', Arial, Helvetica, sans-serif" fill="#000" stroke="#DEECE7" stroke-width="0.6">d</text>
<text transform="translate(701.34,69.83) scale(0.98,1)" font-size="27.17" font-weight="bold" font-family="'Liberation Sans', Arial, Helvetica, sans-serif" fill="#000" stroke="#DEECE7" stroke-width="0.6">t</text>
<path d="M1276,50.8H1358.6" stroke="#006AB6" stroke-width="4.4"/>
<path d="M1419.7,50.3H1504" stroke="#E4461A" stroke-width="4.6" stroke-dasharray="17,15"/>
<text transform="translate(1364.99,54.39) scale(1.02,1)" font-size="25.57" font-weight="bold" font-style="italic" font-family="'Liberation Sans', Arial, Helvetica, sans-serif" fill="#000" stroke="#DEECE7" stroke-width="0.5">ω</text>
<text transform="translate(1508.09,54.89) scale(1.02,1)" font-size="25.57" font-weight="bold" font-style="italic" font-family="'Liberation Sans', Arial, Helvetica, sans-serif" fill="#000" stroke="#DEECE7" stroke-width="0.5">ω</text>
<text transform="translate(1384.37,70.13) scale(0.96,1)" font-size="27.07" font-weight="bold" font-family="'Liberation Sans', Arial, Helvetica, sans-serif" fill="#000" stroke="#DEECE7" stroke-width="0.6">d</text>
<text transform="translate(1528.34,69.83) scale(0.98,1)" font-size="27.17" font-weight="bold" font-family="'Liberation Sans', Arial, Helvetica, sans-serif" fill="#000" stroke="#DEECE7" stroke-width="0.6">t</text>
<rect x="366" y="182.9" width="328.9" height="165" fill="#fff"/>
<rect x="370.4" y="187.3" width="320.1" height="156.2" fill="#DEECE7"/>
<path d="M366,222.2 C393.33,222.05 475.18,221.6 530,221.3 C584.82,221 667.42,220.55 694.9,220.4" stroke="#006AB6" stroke-width="4" fill="none" stroke-linejoin="round" stroke-linecap="butt"/>
<path d="M366,273 C368.5,273 374.33,272.87 381,273 C387.67,273.13 396.33,274.02 406,273.8 C415.67,273.58 428,272.55 439,271.7 C450,270.85 461,269.53 472,268.7 C483,267.87 494,266.7 505,266.7 C516,266.7 527,267.87 538,268.7 C549,269.53 560,271.07 571,271.7 C582,272.33 593,272.7 604,272.5 C615,272.3 626,271.25 637,270.5 C648,269.75 660.5,268.5 670,268 C679.5,267.5 690,267.58 694,267.5" stroke="#E4461A" stroke-width="4.6" fill="none" stroke-dasharray="16.5,16.5" stroke-dashoffset="-1.2"/>
<path d="M475.2,347.9V341.4M475.2,182.9V189.4M585.7,347.9V341.4M585.7,182.9V189.4M366,265.4H372.5M694.9,265.4H688.4" stroke="#000" stroke-width="4.8" fill="none"/>
<rect x="366" y="182.9" width="328.9" height="165" fill="none" stroke="#000" stroke-width="4.8"/>
<text transform="translate(314.22,193.96) scale(0.91,1)" font-size="29.72" font-weight="bold" font-family="'Liberation Sans', Arial, Helvetica, sans-serif" fill="#000">4.2</text>
<text transform="translate(313.89,276.72) scale(0.91,1)" font-size="29.72" font-weight="bold" font-family="'Liberation Sans', Arial, Helvetica, sans-serif" fill="#000">4.1</text>
<text transform="translate(335.86,360.12) scale(0.91,1)" font-size="29.72" font-weight="bold" font-family="'Liberation Sans', Arial, Helvetica, sans-serif" fill="#000">4</text>
<text transform="translate(337.4,386.23) scale(0.91,1)" font-size="29.72" font-weight="bold" font-family="'Liberation Sans', Arial, Helvetica, sans-serif" fill="#000">36.2</text>
<text transform="translate(446.93,386.23) scale(0.91,1)" font-size="29.72" font-weight="bold" font-family="'Liberation Sans', Arial, Helvetica, sans-serif" fill="#000">36.4</text>
<text transform="translate(557.84,386.23) scale(0.91,1)" font-size="29.72" font-weight="bold" font-family="'Liberation Sans', Arial, Helvetica, sans-serif" fill="#000">36.6</text>
<text transform="translate(667.77,386.23) scale(0.91,1)" font-size="29.72" font-weight="bold" font-family="'Liberation Sans', Arial, Helvetica, sans-serif" fill="#000">36.8</text>
<rect x="1209.9" y="182.9" width="328.7" height="165" fill="#fff"/>
<rect x="1214.3" y="187.3" width="319.9" height="156.2" fill="#DEECE7"/>
<path d="M1209.9,243.5 C1237.25,243.67 1319.22,244.17 1374,244.5 C1428.78,244.83 1511.17,245.33 1538.6,245.5" stroke="#006AB6" stroke-width="4" fill="none" stroke-linejoin="round" stroke-linecap="butt"/>
<path d="M1209.9,294 C1216.45,293.25 1237.15,290.88 1249.2,289.5 C1261.25,288.12 1270.77,286.45 1282.2,285.7 C1293.63,284.95 1306.37,284.58 1317.8,285 C1329.23,285.42 1340.23,287.37 1350.8,288.2 C1361.37,289.03 1370.62,289.7 1381.2,290 C1391.78,290.3 1403.72,290.08 1414.3,290 C1424.88,289.92 1433.7,289.5 1444.7,289.5 C1455.7,289.5 1468.87,289.58 1480.3,290 C1491.73,290.42 1503.58,291.5 1513.3,292 C1523.02,292.5 1534.38,292.83 1538.6,293" stroke="#E4461A" stroke-width="4.6" fill="none" stroke-dasharray="16.5,16.5" stroke-dashoffset="1.3"/>
<path d="M1319,347.9V341.4M1319,182.9V189.4M1428.2,347.9V341.4M1428.2,182.9V189.4M1209.9,264.1H1216.4M1538.6,264.1H1532.1" stroke="#000" stroke-width="4.8" fill="none"/>
<rect x="1209.9" y="182.9" width="328.7" height="165" fill="none" stroke="#000" stroke-width="4.8"/>
<text transform="translate(1157.99,193.78) scale(0.91,1)" font-size="29.72" font-weight="bold" font-family="'Liberation Sans', Arial, Helvetica, sans-serif" fill="#000">4.3</text>
<text transform="translate(1158.12,276.76) scale(0.91,1)" font-size="29.72" font-weight="bold" font-family="'Liberation Sans', Arial, Helvetica, sans-serif" fill="#000">4.2</text>
<text transform="translate(1157.79,360.12) scale(0.91,1)" font-size="29.72" font-weight="bold" font-family="'Liberation Sans', Arial, Helvetica, sans-serif" fill="#000">4.1</text>
<text transform="translate(1181.2,386.23) scale(0.91,1)" font-size="29.72" font-weight="bold" font-family="'Liberation Sans', Arial, Helvetica, sans-serif" fill="#000">36.2</text>
<text transform="translate(1289.93,386.23) scale(0.91,1)" font-size="29.72" font-weight="bold" font-family="'Liberation Sans', Arial, Helvetica, sans-serif" fill="#000">36.4</text>
<text transform="translate(1401.34,386.23) scale(0.91,1)" font-size="29.72" font-weight="bold" font-family="'Liberation Sans', Arial, Helvetica, sans-serif" fill="#000">36.6</text>
<text transform="translate(1511.17,386.23) scale(0.91,1)" font-size="29.72" font-weight="bold" font-family="'Liberation Sans', Arial, Helvetica, sans-serif" fill="#000">36.8</text>
</svg></body></html>
